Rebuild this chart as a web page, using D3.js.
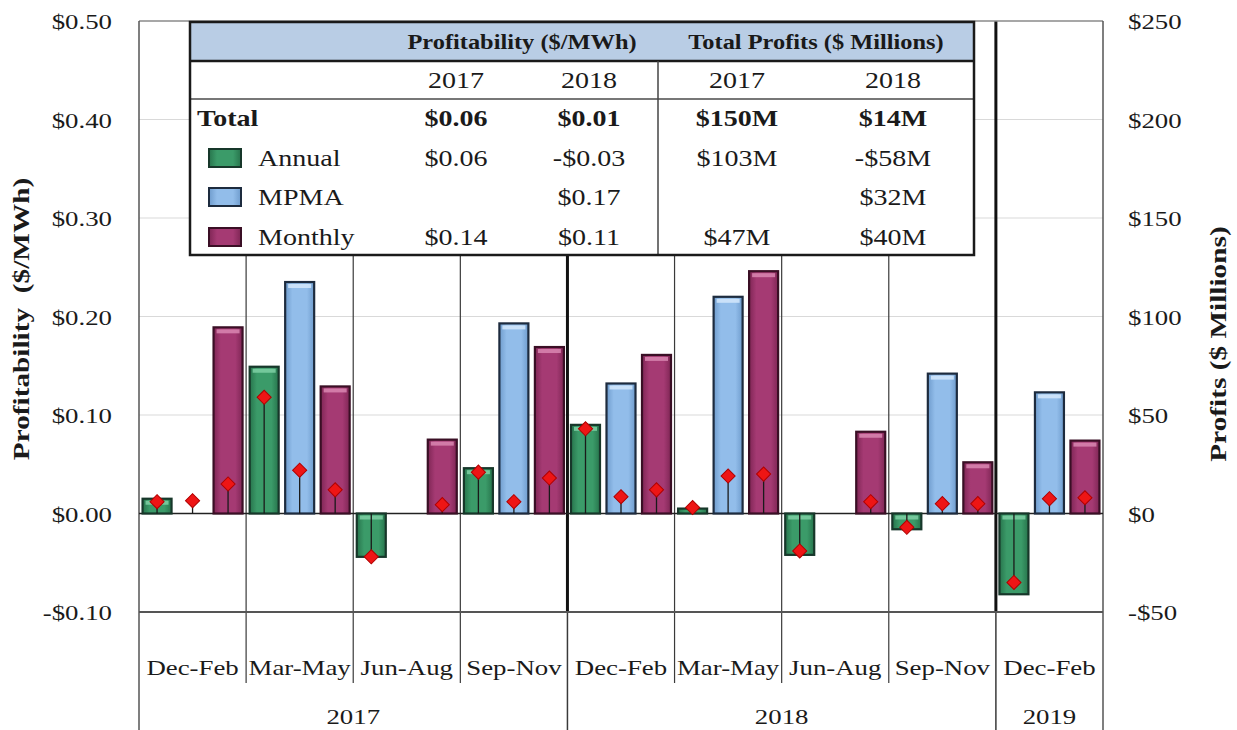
<!DOCTYPE html>
<html>
<head>
<meta charset="utf-8">
<script src="https://cdn.jsdelivr.net/npm/d3@7"></script>
<style>
  body { margin: 0; background: #fff; }
  svg { display: block; font-family: "Liberation Serif", "Times New Roman", serif; }
</style>
</head>
<body>
<div id="chart"></div>
<script>
// seasons and the year each belongs to
const seasons = ["Dec-Feb", "Mar-May", "Jun-Aug", "Sep-Nov", "Dec-Feb", "Mar-May", "Jun-Aug", "Sep-Nov", "Dec-Feb"];
const seasonYears = ["2017", "2017", "2017", "2017", "2018", "2018", "2018", "2018", "2019"];
const yearLabels = ["2017", "2018", "2019"];

// profitability ($/MWh) - bars, left axis
const annualProf = [0.015, 0.149, -0.044, 0.046, 0.090, 0.005, -0.042, -0.016, -0.082];
const mpmaProf = [null, 0.235, null, 0.193, 0.132, 0.220, null, 0.142, 0.123];
const monthlyProf = [0.189, 0.129, 0.075, 0.169, 0.161, 0.246, 0.083, 0.052, 0.074];

// total profits ($ millions) - diamonds, right axis
const annualProfit = [6, 59, -22, 21, 43, 3, -19, -7, -35];
const mpmaProfit = [6.5, 22, null, 6, 8.5, 19, null, 5, 7.5];
const monthlyProfit = [15, 12, 4.5, 18, 12, 20, 6, 5, 8];

// ticks
const leftTicks = [-0.1, 0, 0.1, 0.2, 0.3, 0.4, 0.5];
const rightTicks = [-50, 0, 50, 100, 150, 200, 250];

// summary table
const tableRows = ["Total", "Annual", "MPMA", "Monthly"];
const prof2017 = ["$0.06", "$0.06", "", "$0.14"];
const prof2018 = ["$0.01", "-$0.03", "$0.17", "$0.11"];
const total2017 = ["$150M", "$103M", "", "$47M"];
const total2018 = ["$14M", "-$58M", "$32M", "$40M"];

const series = ["Annual", "MPMA", "Monthly"];
const colors = {
  Annual:  { base: "#3b9b69", dark: "#27744c", light: "#7fd0a4", stroke: "#17372a" },
  MPMA:    { base: "#92bdea", dark: "#6f9ccd", light: "#d4e8fb", stroke: "#1d2b3e" },
  Monthly: { base: "#a53a73", dark: "#7f2655", light: "#d987b2", stroke: "#3a0f25" }
};

const W = 1237, H = 730;
const SX = 1.22; // glyphs in the source are drawn wider than Times

const svg = d3.select("#chart").append("svg")
  .attr("width", W)
  .attr("height", H);

// gradients for the bevelled bars
const defs = svg.append("defs");
series.forEach(s => {
  const g = defs.append("linearGradient").attr("id", "grad-" + s)
    .attr("x1", 0).attr("x2", 1).attr("y1", 0).attr("y2", 0);
  g.append("stop").attr("offset", "0%").attr("stop-color", colors[s].dark);
  g.append("stop").attr("offset", "25%").attr("stop-color", colors[s].base);
  g.append("stop").attr("offset", "75%").attr("stop-color", colors[s].base);
  g.append("stop").attr("offset", "100%").attr("stop-color", colors[s].dark);
});

// helper for wide serif text
function label(parent, x, y, str, size, opts = {}) {
  const rot = opts.rotate ? ` rotate(${opts.rotate})` : "";
  return parent.append("text")
    .attr("transform", `translate(${x},${y})${rot} scale(${SX},1)`)
    .attr("text-anchor", opts.anchor || "middle")
    .attr("dy", "0.35em")
    .attr("font-size", size)
    .attr("font-weight", opts.bold ? "bold" : "normal")
    .attr("fill", "#1a1a1a")
    .attr("xml:space", "preserve")
    .text(str);
}

const pLeft = 139, pRight = 1103, pTop = 21, pBottom = 612;

const x = d3.scaleBand().domain(d3.range(seasons.length)).range([pLeft, pRight]).padding(0);
const xs = d3.scaleBand().domain(series).range([0, x.bandwidth()]).paddingInner(0.183).paddingOuter(0.1);
const y = d3.scaleLinear().domain([-0.1, 0.5]).range([pBottom, pTop]);
const yR = d3.scaleLinear().domain([-50, 250]).range([pBottom, pTop]);

// gridlines
svg.append("g")
  .selectAll("line")
  .data(leftTicks.filter(t => t > -0.1 && t < 0.5))
  .join("line")
  .attr("x1", pLeft).attr("x2", pRight)
  .attr("y1", d => y(d)).attr("y2", d => y(d))
  .attr("stroke", "#d9d9d9").attr("stroke-width", 1.2);

// season separators (thin) and year separators (thick)
const bounds = d3.range(1, seasons.length);
svg.append("g")
  .selectAll("line")
  .data(bounds.filter(i => seasonYears[i] === seasonYears[i - 1]))
  .join("line")
  .attr("x1", i => x(i)).attr("x2", i => x(i))
  .attr("y1", pTop).attr("y2", 683)
  .attr("stroke", "#3a3a3a").attr("stroke-width", 1.2);

const yearBounds = bounds.filter(i => seasonYears[i] !== seasonYears[i - 1]);
svg.append("g")
  .selectAll("line")
  .data(yearBounds)
  .join("line")
  .attr("x1", i => x(i)).attr("x2", i => x(i))
  .attr("y1", pTop).attr("y2", pBottom)
  .attr("stroke", "#111").attr("stroke-width", 3);
svg.append("g")
  .selectAll("line")
  .data(yearBounds)
  .join("line")
  .attr("x1", i => x(i)).attr("x2", i => x(i))
  .attr("y1", pBottom).attr("y2", H)
  .attr("stroke", "#3a3a3a").attr("stroke-width", 1.5);

// plot frame
svg.append("line").attr("x1", pLeft).attr("x2", pRight).attr("y1", pTop).attr("y2", pTop)
  .attr("stroke", "#8a8a8a").attr("stroke-width", 1.5);
[pLeft, pRight].forEach(px => {
  svg.append("line").attr("x1", px).attr("x2", px).attr("y1", pTop).attr("y2", H)
    .attr("stroke", "#555").attr("stroke-width", 1.5);
});
svg.append("line").attr("x1", pLeft).attr("x2", pRight).attr("y1", pBottom).attr("y2", pBottom)
  .attr("stroke", "#555").attr("stroke-width", 2);

// zero line
svg.append("line").attr("x1", pLeft).attr("x2", pRight).attr("y1", y(0)).attr("y2", y(0))
  .attr("stroke", "#222").attr("stroke-width", 1.5);

// bars
const profBySeries = { Annual: annualProf, MPMA: mpmaProf, Monthly: monthlyProf };
const profitBySeries = { Annual: annualProfit, MPMA: mpmaProfit, Monthly: monthlyProfit };

const barData = [];
const dotData = [];
series.forEach(s => {
  seasons.forEach((c, i) => {
    if (profBySeries[s][i] != null) barData.push({ s, i, v: profBySeries[s][i] });
    if (profitBySeries[s][i] != null) dotData.push({ s, i, v: profitBySeries[s][i] });
  });
});

const bars = svg.append("g");
bars.selectAll("rect.bar")
  .data(barData)
  .join("rect")
  .attr("class", "bar")
  .attr("x", d => x(d.i) + xs(d.s))
  .attr("y", d => Math.min(y(d.v), y(0)))
  .attr("width", xs.bandwidth())
  .attr("height", d => Math.abs(y(d.v) - y(0)))
  .attr("fill", d => `url(#grad-${d.s})`)
  .attr("stroke", d => colors[d.s].stroke)
  .attr("stroke-width", 2.2);

// light band across the top of each bar
bars.selectAll("rect.hi")
  .data(barData.filter(d => Math.abs(y(d.v) - y(0)) > 8))
  .join("rect")
  .attr("class", "hi")
  .attr("x", d => x(d.i) + xs(d.s) + 3)
  .attr("y", d => Math.min(y(d.v), y(0)) + 2)
  .attr("width", xs.bandwidth() - 6)
  .attr("height", 4)
  .attr("fill", d => colors[d.s].light)
  .attr("opacity", 0.85);

// stems and diamonds (right axis)
const cx = d => x(d.i) + xs(d.s) + xs.bandwidth() / 2;
svg.append("g")
  .selectAll("line")
  .data(dotData)
  .join("line")
  .attr("x1", cx).attr("x2", cx)
  .attr("y1", yR(0)).attr("y2", d => yR(d.v))
  .attr("stroke", "#1a1a1a").attr("stroke-width", 1.3);

svg.append("g")
  .selectAll("path")
  .data(dotData)
  .join("path")
  .attr("transform", d => `translate(${cx(d)},${yR(d.v)}) rotate(45)`)
  .attr("d", d3.symbol().type(d3.symbolSquare).size(100))
  .attr("fill", "#ee1515")
  .attr("stroke", "#b00000")
  .attr("stroke-width", 1);

// left axis
const axL = svg.append("g")
  .attr("transform", `translate(${pLeft},0)`)
  .call(d3.axisLeft(y).tickValues(leftTicks).tickSize(0)
    .tickFormat(d => (d < 0 ? "-$" : "$") + Math.abs(d).toFixed(2)));
axL.select(".domain").remove();
axL.selectAll("text")
  .attr("x", 0).attr("dy", "0.35em")
  .attr("transform", `translate(-27,0) scale(${SX},1)`)
  .attr("font-family", "Liberation Serif").attr("font-size", 22).attr("fill", "#1a1a1a");

// right axis
const axR = svg.append("g")
  .attr("transform", `translate(${pRight},0)`)
  .call(d3.axisRight(yR).tickValues(rightTicks).tickSize(0)
    .tickFormat(d => (d < 0 ? "-$" : "$") + Math.abs(d)));
axR.select(".domain").remove();
axR.selectAll("text")
  .attr("x", 0).attr("dy", "0.35em")
  .attr("transform", `translate(25,0) scale(${SX},1)`)
  .attr("font-family", "Liberation Serif").attr("font-size", 22).attr("fill", "#1a1a1a");

// axis titles
label(svg, 21, 319, "Profitability  ($/MWh)", 24, { bold: true, rotate: -90 });
label(svg, 1218, 344, "Profits ($ Millions)", 24, { bold: true, rotate: -90 });

// season labels
seasons.forEach((s, i) => label(svg, x(i) + x.bandwidth() / 2, 667, s, 22));

// year labels, centred over their seasons
yearLabels.forEach(yr => {
  const idx = seasons.map((s, i) => i).filter(i => seasonYears[i] === yr);
  const x0 = x(idx[0]), x1 = x(idx[idx.length - 1]) + x.bandwidth();
  label(svg, (x0 + x1) / 2, 716, yr, 22);
});

// summary table
const tX = 190, tY = 22, tW = 784, tH = 233;
const tbl = svg.append("g");
tbl.append("rect").attr("x", tX).attr("y", tY).attr("width", tW).attr("height", tH).attr("fill", "#fff");
tbl.append("rect").attr("x", tX).attr("y", tY).attr("width", tW).attr("height", 39).attr("fill", "#b9cde5");
tbl.append("line").attr("x1", tX).attr("x2", tX + tW).attr("y1", 61).attr("y2", 61)
  .attr("stroke", "#1a1a1a").attr("stroke-width", 2.5);
tbl.append("line").attr("x1", tX).attr("x2", tX + tW).attr("y1", 99).attr("y2", 99)
  .attr("stroke", "#777").attr("stroke-width", 2);
tbl.append("line").attr("x1", 658).attr("x2", 658).attr("y1", 61).attr("y2", tY + tH)
  .attr("stroke", "#444").attr("stroke-width", 1.5);
tbl.append("rect").attr("x", tX).attr("y", tY).attr("width", tW).attr("height", tH)
  .attr("fill", "none").attr("stroke", "#1a1a1a").attr("stroke-width", 2.5);

label(tbl, 522, 42, "Profitability ($/MWh)", 20, { bold: true });
label(tbl, 816, 42, "Total Profits ($ Millions)", 20, { bold: true });

const colX = [456, 589, 737, 893];
["2017", "2018", "2017", "2018"].forEach((yr, j) => label(tbl, colX[j], 80, yr, 23));

const rowY = [118, 158, 197, 237];
tableRows.forEach((r, k) => {
  const bold = k === 0;
  if (bold) {
    label(tbl, 197, rowY[k], r, 23, { bold: true, anchor: "start" });
  } else {
    tbl.append("rect")
      .attr("x", 209).attr("y", rowY[k] - 9).attr("width", 32).attr("height", 18)
      .attr("fill", `url(#grad-${r})`)
      .attr("stroke", colors[r].stroke).attr("stroke-width", 2);
    label(tbl, 258, rowY[k], r, 23, { anchor: "start" });
  }
  [prof2017, prof2018, total2017, total2018].forEach((col, j) => {
    if (col[k]) label(tbl, colX[j], rowY[k], col[k], 23, { bold });
  });
});
</script>
</body>
</html>
